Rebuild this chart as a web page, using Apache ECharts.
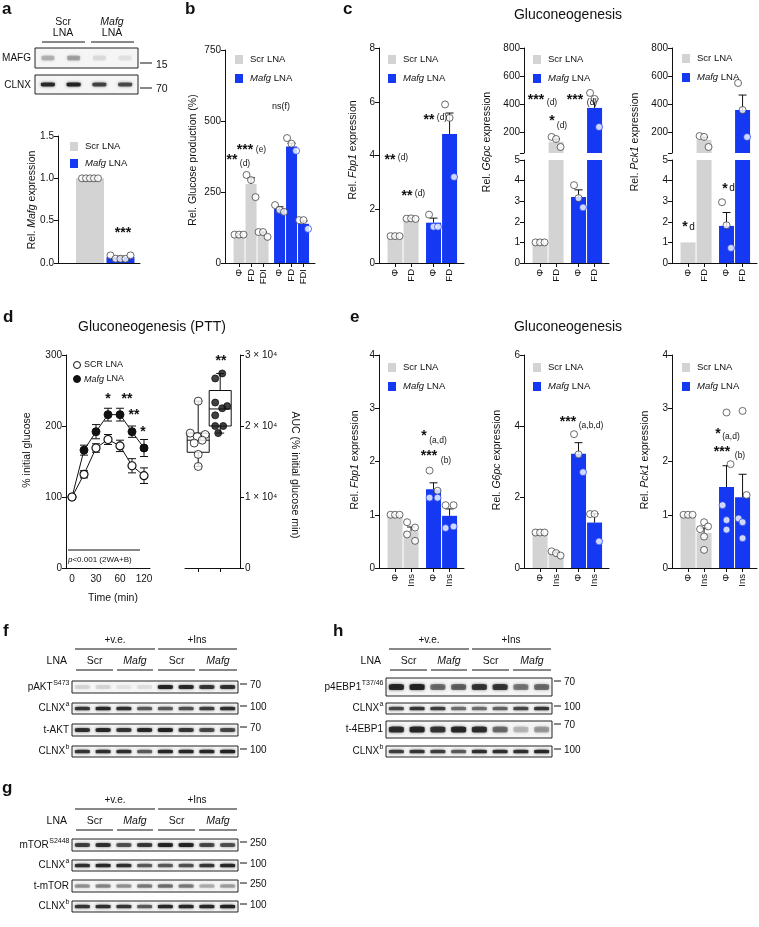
<!DOCTYPE html>
<html><head><meta charset="utf-8">
<script src="https://cdn.jsdelivr.net/npm/echarts@6/dist/echarts.min.js"></script>
<style>html,body{margin:0;padding:0;background:#fff}#c{width:759px;height:927px}</style>
</head><body><div id="c"></div>
<script>
// ====================== DATA ======================
// Panel a
const aGroups = ['Scr LNA', 'Mafg LNA'];
const aMean = [1.0, 0.07];
const aSem = [0, 0.01];
const aPts = [[1, 1, 1, 1, 1], [0.09, 0.05, 0.05, 0.05, 0.09]];
const aBlotMAFG = [0.22, 0.28, 0.08, 0.06];
const aBlotCLNX = [0.9, 0.95, 0.72, 0.68];

// Panel b
const bCats = ['Φ', 'FD', 'FDI'];
const bScrMean = [100, 278, 103];
const bScrSem = [2, 22, 6];
const bScrPts = [[100, 100, 100], [310, 292, 232], [109, 109, 92]];
const bMafgMean = [190, 410, 138];
const bMafgSem = [8, 12, 10];
const bMafgPts = [[204, 187, 180], [440, 420, 395], [151, 151, 120]];

// Panel c
const cCats = ['Φ', 'FD'];
const c1ScrMean = [1.0, 1.65], c1ScrSem = [0, 0.02], c1ScrPts = [[1, 1, 1], [1.65, 1.66, 1.64]];
const c1MafgMean = [1.5, 4.8], c1MafgSem = [0.17, 0.78], c1MafgPts = [[1.8, 1.35, 1.35], [5.9, 5.4, 3.2]];
const c2ScrMean = [1.0, 130], c2ScrSem = [0, 20], c2ScrPts = [[1, 1, 1], [165, 150, 93]];
const c2MafgMean = [3.2, 372], c2MafgSem = [0.35, 64], c2MafgPts = [[3.78, 3.15, 2.7], [479, 436, 236]];
const c3ScrMean = [1.0, 143], c3ScrSem = [0, 20], c3ScrPts = [[], [171, 165, 93]];
const c3MafgMean = [1.8, 357], c3MafgSem = [0.65, 107], c3MafgPts = [[2.95, 1.83, 0.73], [550, 357, 164]];

// Panel d
const dTime = ['0', '15', '30', '45', '60', '90', '120'];
const dScr = [100, 132, 169, 181, 172, 144, 130];
const dScrSem = [0, 5, 6, 7, 8, 10, 11];
const dMafg = [100, 166, 192, 216, 216, 192, 169];
const dMafgSem = [0, 7, 10, 9, 9, 8, 12];
const dAucScr = [23500, 19000, 18800, 18500, 18000, 17600, 16000, 14300];
const dAucMafg = [27400, 26700, 23300, 22800, 22500, 21500, 20000, 20000, 19000];
const dBoxScr = [14300, 16300, 18000, 19000, 23500];   // min, Q1, median, Q3, max
const dBoxMafg = [19000, 20000, 22400, 25000, 27400];

// Panel e
const eCats = ['Φ', 'Ins'];
const e1ScrMean = [1.0, 0.69], e1ScrSem = [0, 0.08], e1ScrPts = [[1, 1, 1], [0.86, 0.76, 0.63, 0.51]];
const e1MafgMean = [1.48, 0.98], e1MafgSem = [0.12, 0.13], e1MafgPts = [[1.83, 1.45, 1.32, 1.32], [1.18, 1.18, 0.75, 0.78]];
const e2ScrMean = [1.0, 0.41], e2ScrSem = [0, 0.04], e2ScrPts = [[1, 1, 1], [0.47, 0.42, 0.35]];
const e2MafgMean = [3.22, 1.28], e2MafgSem = [0.31, 0.25], e2MafgPts = [[3.77, 3.2, 2.7], [1.52, 1.52, 0.75]];
const e3ScrMean = [1.0, 0.66], e3ScrSem = [0, 0.09], e3ScrPts = [[1, 1, 1], [0.86, 0.78, 0.73, 0.59, 0.34]];
const e3MafgMean = [1.52, 1.33], e3MafgSem = [0.4, 0.43], e3MafgPts = [[2.92, 1.95, 1.18, 0.9, 0.72], [2.95, 1.37, 0.93, 0.86, 0.56]];

// Western blots (band intensity 0..1), lanes: Scr Scr Mafg Mafg | Scr Scr Mafg Mafg
const fPAKT = [0.1, 0.1, 0.05, 0.07, 0.95, 0.9, 0.8, 0.85];
const fCLNXa = [0.8, 0.9, 0.85, 0.6, 0.6, 0.65, 0.75, 0.85];
const fTAKT = [0.85, 0.9, 0.8, 0.9, 0.95, 0.8, 0.7, 0.7];
const fCLNXb = [0.8, 0.85, 0.85, 0.6, 0.9, 0.9, 0.9, 0.95];
const gMTOR = [0.75, 0.85, 0.65, 0.8, 0.95, 0.95, 0.7, 0.65];
const gCLNXa = [0.85, 0.9, 0.85, 0.6, 0.6, 0.65, 0.8, 0.9];
const gTMTOR = [0.35, 0.4, 0.35, 0.45, 0.5, 0.45, 0.25, 0.3];
const gCLNXb = [0.8, 0.85, 0.8, 0.6, 0.9, 0.9, 0.9, 0.95];
const hP4EBP1 = [0.9, 0.95, 0.5, 0.55, 0.8, 0.8, 0.45, 0.5];
const hCLNXa = [0.7, 0.8, 0.75, 0.5, 0.5, 0.55, 0.7, 0.8];
const hT4EBP1 = [0.85, 0.9, 0.8, 0.9, 0.85, 0.5, 0.2, 0.3];
const hCLNXb = [0.75, 0.8, 0.75, 0.6, 0.85, 0.85, 0.85, 0.9];

// ====================== STYLE / LAYOUT ======================
const FONT = '"Liberation Sans", Arial, Helvetica, sans-serif';
const INK = '#111111';
const GRAY = '#d3d3d3';
const BLUE = '#1538f2';
const JIT = {1: [0], 2: [-3, 3], 3: [-4.5, 0, 4.5], 4: [-4, 4, -4, 4], 5: [0, 4, -4, 0, 0]};
const JIT_AUC_SCR = [0, -8, 7, -1, 4, -4, 0, 0];
const JIT_AUC_MAFG = [2, -5, -5, 7, 2, -5, -5, 3, -2];

const option = {animation: false, backgroundColor: '#fff', textStyle: {fontFamily: FONT},
  grid: [], xAxis: [], yAxis: [], series: [], graphic: {elements: []}};
const G = option.graphic.elements;

function addGrid(g) { option.grid.push(Object.assign({containLabel: false, outerBoundsMode: 'none'}, g)); return option.grid.length - 1; }

function valueY(gi, o) {
  const ax = {gridIndex: gi, type: 'value', min: o.min, max: o.max, splitLine: {show: false},
    axisLine: {show: true, onZero: false, lineStyle: {color: INK, width: 1}},
    axisTick: {show: true, length: 4, lineStyle: {color: INK, width: 1}},
    axisLabel: {show: true, fontSize: 10, color: INK, fontFamily: FONT, margin: 4}};
  if (o.interval != null) ax.interval = o.interval;
  if (o.position) ax.position = o.position;
  if (o.fmt) ax.axisLabel.formatter = o.fmt;
  if (o.ticks) { ax.axisTick.customValues = o.tickMarks || o.ticks; ax.axisLabel.customValues = o.ticks; }
  return option.yAxis.push(ax) - 1;
}
function valueX(gi, o) {
  const ax = {gridIndex: gi, type: 'value', min: o.min, max: o.max, splitLine: {show: false}, show: o.show !== false,
    axisLine: {show: true, onZero: false, lineStyle: {color: INK, width: 1}},
    axisTick: {show: !!o.ticks, length: 4, lineStyle: {color: INK}},
    axisLabel: {show: !!(o.ticks && o.fmt), fontSize: 9.5, color: INK, fontFamily: FONT, rotate: 90, margin: 6}};
  if (o.ticks) { ax.axisTick.customValues = o.ticks; ax.axisLabel.customValues = o.ticks; }
  if (o.fmt) ax.axisLabel.formatter = o.fmt;
  return option.xAxis.push(ax) - 1;
}
function errUp(params, api) {
  const x = api.value(0), m = api.value(1), e = api.value(2);
  if (!e) return {type: 'group', children: []};
  const p0 = api.coord([x, m]), p1 = api.coord([x, m + e]);
  return {type: 'group', children: [
    {type: 'line', shape: {x1: p0[0], y1: p0[1], x2: p1[0], y2: p1[1]}, style: {stroke: INK, lineWidth: 1}},
    {type: 'line', shape: {x1: p1[0] - 4, y1: p1[1], x2: p1[0] + 4, y2: p1[1]}, style: {stroke: INK, lineWidth: 1}}]};
}
function errBoth(params, api) {
  const x = api.value(0), m = api.value(1), e = api.value(2);
  if (!e) return {type: 'group', children: []};
  const p0 = api.coord([x, m - e]), p1 = api.coord([x, m + e]);
  return {type: 'group', children: [
    {type: 'line', shape: {x1: p0[0], y1: p0[1], x2: p1[0], y2: p1[1]}, style: {stroke: INK, lineWidth: 1}},
    {type: 'line', shape: {x1: p1[0] - 4, y1: p1[1], x2: p1[0] + 4, y2: p1[1]}, style: {stroke: INK, lineWidth: 1}},
    {type: 'line', shape: {x1: p0[0] - 4, y1: p0[1], x2: p0[0] + 4, y2: p0[1]}, style: {stroke: INK, lineWidth: 1}}]};
}

function barPanel(cfg) {
  const n = cfg.cats.length;
  const pos = [], means = [], sems = [], cols = [], pts = [], labs = [], isM = [];
  cfg.groups.forEach((g, gi) => g.mean.forEach((m, i) => {
    pos.push(gi * (n + cfg.gap) + i); means.push(m); sems.push(g.sem[i]); cols.push(g.color);
    pts.push(g.pts[i] || []); labs.push(cfg.cats[i]); isM.push(g.color === BLUE);
  }));
  const lab = v => { const k = pos.findIndex(p => Math.abs(p - v) < 1e-6); return k < 0 ? '' : labs[k]; };
  cfg.segs.forEach(seg => {
    const gi = addGrid({left: cfg.left, width: cfg.width, top: seg.top, height: seg.height});
    const showX = seg.showX !== false;
    const xi = valueX(gi, {min: cfg.xmin, max: cfg.xmax, show: showX, ticks: (showX && cfg.xLabels) ? pos : null, fmt: cfg.xLabels ? lab : null});
    const yi = valueY(gi, {min: seg.min, max: seg.max, interval: seg.interval, ticks: seg.ticks, tickMarks: seg.tickMarks, fmt: seg.fmt});
    option.series.push({type: 'bar', xAxisIndex: xi, yAxisIndex: yi, barWidth: cfg.barW, clip: true, silent: true, z: 2,
      data: means.map((m, i) => ({value: [pos[i], m], itemStyle: {color: cols[i]}}))});
    option.series.push({type: 'custom', xAxisIndex: xi, yAxisIndex: yi, clip: true, silent: true, z: 3,
      data: means.map((m, i) => [pos[i], m, sems[i]]), renderItem: errUp});
    const thr = (seg.max - seg.min) * 0.015;
    const pdata = [];
    pts.forEach((arr, i) => {
      const jit = (cfg.jit && cfg.jit[i]) || JIT[arr.length] || arr.map(() => 0);
      arr.forEach((v, k) => {
        const inside = isM[i] && v < means[i] - thr && v > seg.min + thr;
        pdata.push({value: [pos[i], v], symbolOffset: [jit[k] || 0, 0],
          itemStyle: {color: '#fff', borderColor: inside ? BLUE : '#333', borderWidth: 0.9}});
      });
    });
    option.series.push({type: 'scatter', xAxisIndex: xi, yAxisIndex: yi, clip: true, silent: true, z: 4,
      symbol: 'circle', symbolSize: 7, data: pdata});
  });
}

// ---- graphics helpers ----
const _ctx = document.createElement('canvas').getContext('2d');
function tw(text, size, style) { _ctx.font = (style || '') + ' ' + size + 'px ' + FONT; return _ctx.measureText(text).width; }
function T(x, y, text, o) {
  o = o || {};
  const size = o.size || 10;
  const st = {text: text, fill: o.fill || INK, fontSize: size, fontFamily: FONT,
    fontStyle: o.italic ? 'italic' : 'normal', fontWeight: o.bold ? 'bold' : 'normal',
    align: o.align || 'left', verticalAlign: 'middle', textAlign: o.align || 'left', textVerticalAlign: 'middle'};
  if (o.rich) st.rich = {i: {fontStyle: 'italic', fontSize: size, fontFamily: FONT, fill: INK}};
  G.push({type: 'text', x: x, y: y, rotation: o.rot || 0, z: 100, silent: true, style: st});
}
function L(x1, y1, x2, y2, w) { G.push({type: 'line', z: 100, silent: true, shape: {x1, y1, x2, y2}, style: {stroke: INK, lineWidth: w || 1}}); }
function RECT(x, y, w, h, fill) { G.push({type: 'rect', z: 100, silent: true, shape: {x, y, width: w, height: h}, style: {fill: fill}}); }
function CIRC(cx, cy, r, fill) { G.push({type: 'circle', z: 100, silent: true, shape: {cx, cy, r}, style: {fill: fill, stroke: INK, lineWidth: 1}}); }
function STAR(x, y, s) { T(x, y + 3, s, {size: 14, bold: true, align: 'center'}); }
function SUB(x, y, s, size) { T(x, y, s, {size: size || 8.5, align: 'center'}); }
function YN(x, y, s, rot) { T(x, y, s, {size: 10.5, align: 'center', rot: rot == null ? Math.PI / 2 : rot, rich: true}); }
function LEG(x, y, dy) {
  RECT(x, y, 8, 9, GRAY); T(x + 15, y + 4.5, 'Scr LNA', {size: 9.5});
  RECT(x, y + dy, 8, 9, BLUE); T(x + 15, y + dy + 4.5, '{i|Mafg} LNA', {size: 9.5, rich: true});
}
function supLabel(xr, y, main, sup) {
  const ws = sup ? tw(sup, 7) : 0;
  T(xr - ws, y, main, {size: 10, align: 'right'});
  if (sup) T(xr - ws + 0.5, y - 4, sup, {size: 7});
}

// ---- blot helpers ----
function blot(left, top, width, height, vals, bw, bh) {
  const gi = addGrid({left, top, width, height, show: true, backgroundColor: '#f5f5f5', borderColor: '#222', borderWidth: 1});
  const xi = option.xAxis.push({gridIndex: gi, type: 'category', data: vals.map((_, i) => i), show: false, boundaryGap: true}) - 1;
  const yi = option.yAxis.push({gridIndex: gi, type: 'value', min: 0, max: 1, show: false}) - 1;
  option.series.push({type: 'scatter', xAxisIndex: xi, yAxisIndex: yi, silent: true, symbol: 'roundRect', symbolSize: [bw, bh],
    itemStyle: {color: '#1c1c1c', shadowBlur: 3, shadowColor: 'rgba(20,20,20,0.7)'},
    data: vals.map((v, i) => ({value: [i, 0.5], itemStyle: {opacity: v}}))});
}
function blotRows(x0, width, rows) {
  rows.forEach(r => {
    blot(x0, r.top, width, r.h, r.vals, r.bw || 15, r.bh || 3.5);
    supLabel(x0 - 3, r.top + r.h / 2, r.label, r.sup);
    L(x0 + width + 2, r.top + 3, x0 + width + 9, r.top + 3);
    T(x0 + width + 12, r.top + 4, r.mw, {size: 10});
  });
}
function blotHeader(x0, y) {
  T(x0 + 43, y, '+v.e.', {align: 'center'}); T(x0 + 125, y, '+Ins', {align: 'center'});
  L(x0 + 3, y + 9, x0 + 83, y + 9); L(x0 + 86, y + 9, x0 + 165, y + 9);
  T(x0 - 5, y + 21, 'LNA', {align: 'right', size: 10.5});
  const lab = ['Scr', 'Mafg', 'Scr', 'Mafg'];
  const seg = [[4, 41], [45, 81], [86, 123], [127, 165]];
  seg.forEach((s, k) => {
    T(x0 + (s[0] + s[1]) / 2, y + 21, lab[k], {align: 'center', size: 10.5, italic: lab[k] === 'Mafg'});
    L(x0 + s[0], y + 30, x0 + s[1], y + 30);
  });
}

// ====================== BUILD ======================
// Panel a
barPanel({left: 58, width: 82, xmin: -1.05, xmax: 1.64, gap: 0, barW: 28, cats: [''], xLabels: false,
  groups: [{mean: [aMean[0]], sem: [aSem[0]], pts: [aPts[0]], color: GRAY},
           {mean: [aMean[1]], sem: [aSem[1]], pts: [aPts[1]], color: BLUE}],
  jit: [[-8, -4, 0, 4, 8], [-10, -5, 0, 5, 10]],
  segs: [{top: 136, height: 127, min: 0, max: 1.5, interval: 0.5, fmt: v => v.toFixed(1)}]});
// Panel b
barPanel({left: 225, width: 90, xmin: -1.17, xmax: 6.33, gap: 0.375, barW: 11, cats: bCats, xLabels: true,
  groups: [{mean: bScrMean, sem: bScrSem, pts: bScrPts, color: GRAY}, {mean: bMafgMean, sem: bMafgSem, pts: bMafgPts, color: BLUE}],
  segs: [{top: 50, height: 213, min: 0, max: 750, interval: 250}]});
// Panel c
barPanel({left: 379, width: 85, xmin: -1, xmax: 4.3, gap: 0.4, barW: 15, cats: cCats, xLabels: true,
  groups: [{mean: c1ScrMean, sem: c1ScrSem, pts: c1ScrPts, color: GRAY}, {mean: c1MafgMean, sem: c1MafgSem, pts: c1MafgPts, color: BLUE}],
  segs: [{top: 48, height: 215, min: 0, max: 8, interval: 2}]});
const brokenSegs = [
  {top: 48, height: 105, min: 50, max: 800, ticks: [200, 400, 600, 800], tickMarks: [50, 200, 400, 600, 800], showX: false},
  {top: 160, height: 103, min: 0, max: 5, interval: 1}];
barPanel({left: 524, width: 85, xmin: -1, xmax: 4.3, gap: 0.4, barW: 15, cats: cCats, xLabels: true,
  groups: [{mean: c2ScrMean, sem: c2ScrSem, pts: c2ScrPts, color: GRAY}, {mean: c2MafgMean, sem: c2MafgSem, pts: c2MafgPts, color: BLUE}],
  segs: brokenSegs});
barPanel({left: 672, width: 85, xmin: -1, xmax: 4.3, gap: 0.4, barW: 15, cats: cCats, xLabels: true,
  groups: [{mean: c3ScrMean, sem: c3ScrSem, pts: c3ScrPts, color: GRAY}, {mean: c3MafgMean, sem: c3MafgSem, pts: c3MafgPts, color: BLUE}],
  segs: brokenSegs});
// Panel e
barPanel({left: 379, width: 85, xmin: -1, xmax: 4.3, gap: 0.4, barW: 15, cats: eCats, xLabels: true,
  groups: [{mean: e1ScrMean, sem: e1ScrSem, pts: e1ScrPts, color: GRAY}, {mean: e1MafgMean, sem: e1MafgSem, pts: e1MafgPts, color: BLUE}],
  segs: [{top: 355, height: 213, min: 0, max: 4, interval: 1}]});
barPanel({left: 524, width: 85, xmin: -1, xmax: 4.3, gap: 0.4, barW: 15, cats: eCats, xLabels: true,
  groups: [{mean: e2ScrMean, sem: e2ScrSem, pts: e2ScrPts, color: GRAY}, {mean: e2MafgMean, sem: e2MafgSem, pts: e2MafgPts, color: BLUE}],
  segs: [{top: 355, height: 213, min: 0, max: 6, interval: 2}]});
barPanel({left: 672, width: 85, xmin: -1, xmax: 4.3, gap: 0.4, barW: 15, cats: eCats, xLabels: true,
  groups: [{mean: e3ScrMean, sem: e3ScrSem, pts: e3ScrPts, color: GRAY}, {mean: e3MafgMean, sem: e3MafgSem, pts: e3MafgPts, color: BLUE}],
  segs: [{top: 355, height: 213, min: 0, max: 4, interval: 1}]});

// Panel d - time course
(function () {
  const gi = addGrid({left: 66, top: 355, width: 84, height: 213});
  const xi = option.xAxis.push({gridIndex: gi, type: 'category', data: dTime, boundaryGap: true,
    axisLine: {lineStyle: {color: INK, width: 1}},
    axisTick: {length: 4, alignWithLabel: true, interval: i => i % 2 === 0, lineStyle: {color: INK}},
    axisLabel: {interval: i => i % 2 === 0, fontSize: 10, color: INK, fontFamily: FONT, margin: 6}}) - 1;
  const yi = valueY(gi, {min: 0, max: 300, interval: 100});
  option.series.push({type: 'custom', xAxisIndex: xi, yAxisIndex: yi, z: 2, silent: true, renderItem: errBoth,
    data: dMafg.map((m, i) => [i, m, dMafgSem[i]])});
  option.series.push({type: 'custom', xAxisIndex: xi, yAxisIndex: yi, z: 2, silent: true, renderItem: errBoth,
    data: dScr.map((m, i) => [i, m, dScrSem[i]])});
  option.series.push({type: 'line', name: 'Mafg LNA', xAxisIndex: xi, yAxisIndex: yi, z: 3, silent: true, data: dMafg,
    symbol: 'circle', symbolSize: 8, showAllSymbol: true, lineStyle: {color: INK, width: 1},
    itemStyle: {color: INK, borderColor: INK, borderWidth: 1}});
  option.series.push({type: 'line', name: 'SCR LNA', xAxisIndex: xi, yAxisIndex: yi, z: 4, silent: true, data: dScr,
    symbol: 'circle', symbolSize: 8, showAllSymbol: true, lineStyle: {color: INK, width: 1},
    itemStyle: {color: '#fff', borderColor: INK, borderWidth: 1.2}});
})();
// Panel d - AUC box plot
(function () {
  const gi = addGrid({left: 185, top: 355, width: 55, height: 213});
  const xi = valueX(gi, {min: 0.4, max: 2.9, ticks: [1, 2]});
  const yi = valueY(gi, {min: 0, max: 30000, interval: 10000, position: 'right',
    fmt: v => v === 0 ? '0' : (v / 10000) + ' \u00d7 10\u2074'});
  option.yAxis[yi].axisLabel.margin = 5;
  option.series.push({type: 'custom', xAxisIndex: xi, yAxisIndex: yi, z: 2, silent: true,
    data: [[1].concat(dBoxScr), [2].concat(dBoxMafg)],
    renderItem: function (params, api) {
      const x = api.value(0);
      const v = [1, 2, 3, 4, 5].map(k => api.value(k));
      const c = val => api.coord([x, val]);
      const w = api.size([1, 0])[0], h = w / 2;
      const pMin = c(v[0]), pQ1 = c(v[1]), pMd = c(v[2]), pQ3 = c(v[3]), pMax = c(v[4]);
      const cx = pMin[0];
      const st = {stroke: INK, lineWidth: 1, fill: 'none'};
      return {type: 'group', children: [
        {type: 'rect', shape: {x: cx - h, y: pQ3[1], width: w, height: pQ1[1] - pQ3[1]}, style: st},
        {type: 'line', shape: {x1: cx - h, y1: pMd[1], x2: cx + h, y2: pMd[1]}, style: st},
        {type: 'line', shape: {x1: cx, y1: pQ3[1], x2: cx, y2: pMax[1]}, style: st},
        {type: 'line', shape: {x1: cx, y1: pQ1[1], x2: cx, y2: pMin[1]}, style: st},
        {type: 'line', shape: {x1: cx - 4, y1: pMax[1], x2: cx + 4, y2: pMax[1]}, style: st},
        {type: 'line', shape: {x1: cx - 4, y1: pMin[1], x2: cx + 4, y2: pMin[1]}, style: st}]};
    }});
  option.series.push({type: 'scatter', xAxisIndex: xi, yAxisIndex: yi, z: 3, silent: true, symbol: 'circle', symbolSize: 8,
    itemStyle: {color: '#fff', borderColor: INK, borderWidth: 1},
    data: dAucScr.map((v, i) => ({value: [1, v], symbolOffset: [JIT_AUC_SCR[i], 0]}))});
  option.series.push({type: 'scatter', xAxisIndex: xi, yAxisIndex: yi, z: 3, silent: true, symbol: 'circle', symbolSize: 7,
    itemStyle: {color: INK, borderColor: INK, borderWidth: 1},
    data: dAucMafg.map((v, i) => ({value: [2, v], symbolOffset: [JIT_AUC_MAFG[i], 0]}))});
})();

// Blots
blot(35, 48, 103, 20, aBlotMAFG, 13, 5);
blot(35, 75, 103, 19, aBlotCLNX, 14, 4);
blotHeader(72, 640);
blotRows(72, 166, [
  {top: 681, h: 12, vals: fPAKT, label: 'pAKT', sup: 'S473', mw: '70', bh: 4},
  {top: 703, h: 11, vals: fCLNXa, label: 'CLNX', sup: 'a', mw: '100'},
  {top: 724, h: 12, vals: fTAKT, label: 't-AKT', sup: '', mw: '70', bh: 4},
  {top: 746, h: 11, vals: fCLNXb, label: 'CLNX', sup: 'b', mw: '100'}]);
blotHeader(386, 640);
blotRows(386, 166, [
  {top: 678, h: 18, vals: hP4EBP1, label: 'p4EBP1', sup: 'T37/46', mw: '70', bh: 6},
  {top: 703, h: 11, vals: hCLNXa, label: 'CLNX', sup: 'a', mw: '100'},
  {top: 721, h: 17, vals: hT4EBP1, label: 't-4EBP1', sup: '', mw: '70', bh: 6},
  {top: 746, h: 11, vals: hCLNXb, label: 'CLNX', sup: 'b', mw: '100'}]);
blotHeader(72, 800);
blotRows(72, 166, [
  {top: 839, h: 12, vals: gMTOR, label: 'mTOR', sup: 'S2448', mw: '250', bh: 4},
  {top: 860, h: 11, vals: gCLNXa, label: 'CLNX', sup: 'a', mw: '100'},
  {top: 880, h: 12, vals: gTMTOR, label: 't-mTOR', sup: '', mw: '250'},
  {top: 901, h: 11, vals: gCLNXb, label: 'CLNX', sup: 'b', mw: '100'}]);

// ---- texts ----
[['a', 2, 9], ['b', 185, 9], ['c', 343, 9], ['d', 3, 317], ['e', 350, 317], ['f', 3, 631], ['h', 333, 631], ['g', 2, 788]]
  .forEach(p => T(p[1], p[2], p[0], {size: 17, bold: true}));
T(568, 15, 'Gluconeogenesis', {size: 14, align: 'center'});
T(152, 327, 'Gluconeogenesis (PTT)', {size: 14, align: 'center'});
T(568, 327, 'Gluconeogenesis', {size: 14, align: 'center'});
T(63, 22, 'Scr', {align: 'center', size: 10.5}); T(63, 33, 'LNA', {align: 'center', size: 10.5});
T(112, 22, 'Mafg', {align: 'center', size: 10.5, italic: true}); T(112, 33, 'LNA', {align: 'center', size: 10.5});
L(42, 42, 85, 42); L(91, 42, 134, 42);
T(31, 58, 'MAFG', {align: 'right'}); T(31, 85, 'CLNX', {align: 'right'});
L(140, 63, 152, 63); T(156, 65, '15', {size: 10.5});
L(140, 88, 152, 88); T(156, 89, '70', {size: 10.5});
YN(32, 200, 'Rel. {i|Mafg} expression');
YN(193, 160, 'Rel. Glucose production (%)');
YN(353, 150, 'Rel. {i|Fbp1} expression');
YN(487, 142, 'Rel. {i|G6pc} expression');
YN(635, 142, 'Rel. {i|Pck1} expression');
YN(27, 450, '% initial glucose');
YN(295, 475, 'AUC (% initial glucose min)', -Math.PI / 2);
YN(355, 460, 'Rel. {i|Fbp1} expression');
YN(497, 460, 'Rel. {i|G6pc} expression');
YN(645, 460, 'Rel. {i|Pck1} expression');
T(113, 598, 'Time (min)', {size: 10.5, align: 'center'});
L(68, 550, 140, 550);
T(68, 560, '{i|p}<0.001 (2WA+B)', {size: 8, rich: true});
LEG(70, 142, 17);
LEG(235, 55, 19); LEG(388, 55, 19); LEG(533, 55, 19); LEG(682, 54, 19);
LEG(388, 363, 19); LEG(533, 363, 19); LEG(682, 363, 19);
CIRC(77, 365, 3.5, '#fff'); T(84, 365, 'SCR LNA', {size: 9});
CIRC(77, 379, 3.5, INK); T(84, 379, '{i|Mafg} LNA', {size: 9, rich: true});
STAR(123, 230, '***');
STAR(232, 157, '**'); SUB(245, 164, '(d)'); STAR(245, 147, '***'); SUB(261, 150, '(e)');
T(281, 107, 'ns(f)', {size: 9, align: 'center'});
STAR(390, 157, '**'); SUB(403, 158, '(d)'); STAR(407, 193, '**'); SUB(420, 194, '(d)');
STAR(429, 117, '**'); SUB(442, 118, '(d)');
STAR(536, 97, '***'); SUB(552, 103, '(d)'); STAR(552, 118, '*'); SUB(562, 126, '(d)');
STAR(575, 97, '***'); SUB(592, 103, '(d)');
STAR(685, 224, '*'); SUB(692, 227, 'd', 10); STAR(725, 186, '*'); SUB(732, 188, 'd', 10);
STAR(108, 396, '*'); STAR(127, 396, '**'); STAR(134, 412, '**'); STAR(143, 429, '*'); STAR(221, 358, '**');
STAR(424, 433, '*'); SUB(438, 441, '(a,d)'); STAR(429, 453, '***'); SUB(446, 461, '(b)');
STAR(568, 419, '***'); SUB(591, 426, '(a,b,d)');
STAR(718, 431, '*'); SUB(731, 437, '(a,d)'); STAR(722, 449, '***'); SUB(740, 456, '(b)');

const chart = echarts.init(document.getElementById('c'), null, {renderer: 'canvas'});
chart.setOption(option);
</script></body></html>
